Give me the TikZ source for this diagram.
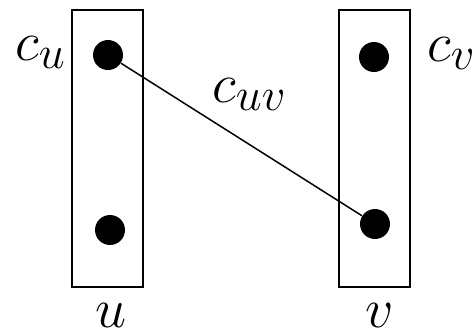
\documentclass[tikz,border=0pt]{standalone}
\begin{document}
\begin{tikzpicture}[x=0.5pt,y=-0.5pt,
  box/.style={draw, line width=1pt, minimum width=35.5pt, minimum height=138.5pt, inner sep=0pt},
  dot/.style={circle, fill, minimum size=15pt, inner sep=0pt},
  lbl/.style={inner sep=0pt, font=\Huge}]
\useasboundingbox (0,0) rectangle (473,333);
\node[box] (U) at (107.5,148.5) {};
\node[box] (V) at (374.5,148) {};
\node[dot] (cu) at (108,55) {};
\node[dot] (bu) at (110,230) {};
\node[dot] (cv) at (374,57) {};
\node[dot] (dv) at (375,224) {};
\draw[line width=0.75pt] (cu) -- (dv);
\node[lbl, anchor=base west] (lcu) at (15,60) {\scalebox{1.12}{$c_u$}};
\node[lbl, anchor=base west] (lcv) at (427,61) {\scalebox{1.12}{$c_v$}};
\node[lbl, anchor=base west] (lcuv) at (212,102) {\scalebox{1.12}{$c_{uv}$}};
\node[lbl, anchor=base] (lu) at (111,327) {\scalebox{1.12}{$u$}};
\node[lbl, anchor=base] (lv) at (380,327) {\scalebox{1.12}{$v$}};
\end{tikzpicture}
\end{document}
